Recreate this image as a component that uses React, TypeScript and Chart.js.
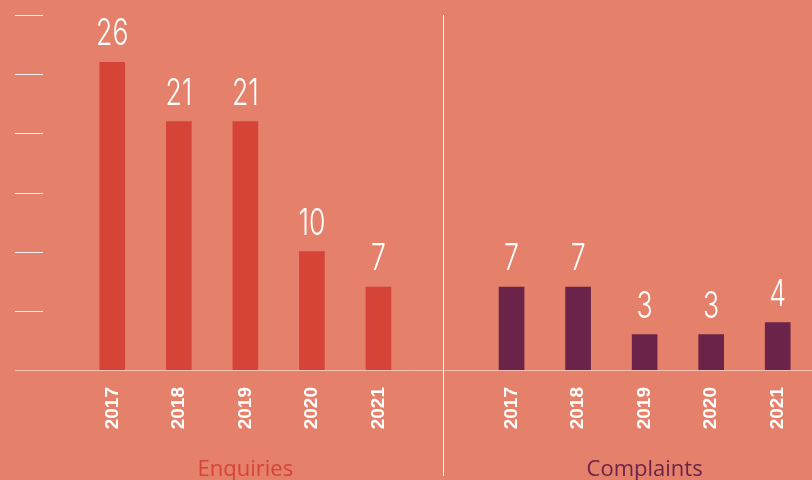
import React, { useEffect, useRef } from "react";
import { Chart, registerables } from "chart.js";

Chart.register(...registerables);

const years = ["2017", "2018", "2019", "2020", "2021"];
const enquiries = [26, 21, 21, 10, 7];
const complaints = [7, 7, 3, 3, 4];
const groupTitles = ["Enquiries", "Complaints"];
const yTicks = [5, 10, 15, 20, 25, 30];

const BG = "#E5806A";
const RED = "#D54437";
const PURPLE = "#6B234A";

const labels = [...years, "", ...years];
const values: (number | null)[] = [...enquiries, null, ...complaints];
const colors = [...years.map(() => RED), "rgba(0,0,0,0)", ...years.map(() => PURPLE)];
const titleColors = [RED, PURPLE];

const decor = {
  id: "decor",
  beforeDraw(chart: any) {
    const { ctx, width, height } = chart;
    ctx.save();
    ctx.fillStyle = BG;
    ctx.fillRect(0, 0, width, height);
    ctx.restore();
  },
  afterDatasetsDraw(chart: any) {
    const { ctx, width } = chart;
    const x = chart.scales.x;
    const y = chart.scales.y;
    ctx.save();
    // y tick marks
    ctx.lineWidth = 1;
    ctx.strokeStyle = "rgba(255,255,255,0.9)";
    yTicks.forEach((v) => {
      const py = Math.round(y.getPixelForValue(v)) + 0.5;
      ctx.beginPath();
      ctx.moveTo(15, py);
      ctx.lineTo(43, py);
      ctx.stroke();
    });
    // baseline
    const by = Math.round(y.getPixelForValue(0)) + 0.5;
    ctx.strokeStyle = "rgba(255,255,255,0.5)";
    ctx.beginPath();
    ctx.moveTo(15, by);
    ctx.lineTo(width, by);
    ctx.stroke();
    // divider
    const gx = Math.round(x.getPixelForValue(years.length)) - 1.5;
    ctx.strokeStyle = "#FFFFFF";
    ctx.beginPath();
    ctx.moveTo(gx, Math.round(y.getPixelForValue(30)));
    ctx.lineTo(gx, 476);
    ctx.stroke();
    // value labels (thin, condensed)
    const meta = chart.getDatasetMeta(0);
    ctx.fillStyle = "#FFFFFF";
    ctx.font = "300 37px Inter, 'DejaVu Sans', sans-serif";
    ctx.textAlign = "center";
    ctx.textBaseline = "alphabetic";
    const sx = 0.72;
    meta.data.forEach((bar: any, i: number) => {
      const v = values[i];
      if (v === null || v === undefined) return;
      ctx.save();
      ctx.translate(bar.x, bar.y - 17);
      ctx.scale(sx, 1);
      ctx.fillText(String(v), 0, 0);
      ctx.restore();
    });
    // group titles
    ctx.font = "500 22px 'Open Sans', sans-serif";
    groupTitles.forEach((t, g) => {
      const idx = g * (years.length + 1) + Math.floor(years.length / 2);
      ctx.fillStyle = titleColors[g];
      ctx.fillText(t, x.getPixelForValue(idx), 476);
    });
    ctx.restore();
  },
};

export default function App() {
  const ref = useRef<HTMLCanvasElement | null>(null);
  useEffect(() => {
    if (!ref.current) return;
    const chart = new Chart(ref.current, {
      type: "bar",
      data: {
        labels,
        datasets: [
          {
            data: values as any,
            backgroundColor: colors,
            barThickness: 25,
            borderWidth: 0,
          },
        ],
      },
      options: {
        responsive: false,
        animation: false,
        layout: { padding: { left: 79, right: 1, top: 15, bottom: 30 } },
        plugins: { legend: { display: false }, tooltip: { enabled: false } },
        scales: {
          x: {
            grid: { display: false },
            border: { display: false },
            ticks: {
              autoSkip: false,
              minRotation: 90,
              maxRotation: 90,
              padding: 9,
              color: "#FFFFFF",
              font: { family: "'Liberation Sans', sans-serif", size: 19, weight: "bold" },
            },
            afterFit: (s: any) => {
              s.height = 80;
              s.paddingLeft = 0;
              s.paddingRight = 0;
            },
          },
          y: {
            display: false,
            min: 0,
            max: 30,
          },
        },
      },
      plugins: [decor],
    });
    return () => chart.destroy();
  }, []);
  return (
    <div style={{ position: "absolute", left: 0, top: 0, width: 812, height: 480 }}>
      <canvas ref={ref} width={812} height={480} style={{ display: "block" }} />
    </div>
  );
}
